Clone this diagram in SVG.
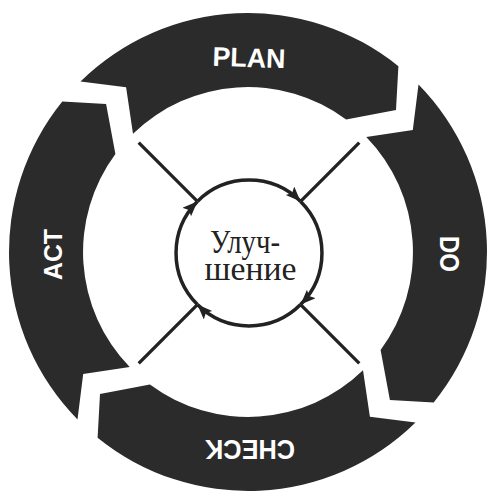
<svg xmlns="http://www.w3.org/2000/svg" xmlns:xlink="http://www.w3.org/1999/xlink" width="488" height="493" viewBox="0 0 488 493">
  <style>
    .seg { fill: #2b2b2b; }
    .lbl { fill: #ffffff; font-family: "Liberation Sans", Arial, sans-serif; font-weight: bold; font-size: 27px; text-anchor: middle; }
    .ctr { fill: #222222; font-family: "Liberation Serif", "Times New Roman", serif; font-size: 34px; text-anchor: middle; }
    .ln { stroke: #222222; stroke-width: 3.3; fill: none; }
    .arc { stroke: #222222; stroke-width: 3.5; fill: none; marker-end: url(#ah); }
  </style>
  <defs>
    <path id="seg" d="M80.5,81.5 A239,239 0 0 1 398.4,66.3 L396.0,110.1 L346.1,119.4 A165,165 0 0 0 133.0,133.7 L126.1,87.2 Z"/>
    <marker id="ah" markerUnits="userSpaceOnUse" markerWidth="18" markerHeight="14" refX="15" refY="6" orient="auto">
      <path d="M0,0 L15,6 L0,12 L3,6 Z" fill="#222222"/>
    </marker>
  </defs>
  <rect width="488" height="493" fill="#ffffff"/>

  <g id="node-plan">
    <use xlink:href="#seg" href="#seg" class="seg"/>
    <text class="lbl" x="249" y="67" textLength="73" lengthAdjust="spacingAndGlyphs" transform="rotate(2 249 57)">PLAN</text>
  </g>
  <g id="node-do">
    <use xlink:href="#seg" href="#seg" class="seg" transform="rotate(90 248 252)"/>
    <text class="lbl" x="0" y="9.7" textLength="36" lengthAdjust="spacingAndGlyphs" transform="translate(450 254) rotate(90)">DO</text>
  </g>
  <g id="node-check">
    <use xlink:href="#seg" href="#seg" class="seg" transform="rotate(180 248 252)"/>
    <text class="lbl" x="0" y="9.7" textLength="90" lengthAdjust="spacingAndGlyphs" transform="translate(250 450) rotate(180)">CHECK</text>
  </g>
  <g id="node-act">
    <use xlink:href="#seg" href="#seg" class="seg" transform="rotate(270 248 252)"/>
    <text class="lbl" x="0" y="9" style="font-size:25px" textLength="51" lengthAdjust="spacingAndGlyphs" transform="translate(52.5 254.5) rotate(-90)">ACT</text>
  </g>

  <g id="connectors">
    <line class="ln" x1="197.4" y1="201.4" x2="138.7" y2="142.7"/>
    <line class="ln" x1="300.6" y1="201.4" x2="359.3" y2="142.7"/>
    <line class="ln" x1="300.6" y1="304.6" x2="359.3" y2="363.3"/>
    <line class="ln" x1="197.4" y1="304.6" x2="138.7" y2="363.3"/>
  </g>

  <g id="node-center">
    <path class="arc" d="M197.4,201.4 A73,73 0 0 1 300.6,201.4"/>
    <path class="arc" d="M300.6,201.4 A73,73 0 0 1 300.6,304.6"/>
    <path class="arc" d="M300.6,304.6 A73,73 0 0 1 197.4,304.6"/>
    <path class="arc" d="M197.4,304.6 A73,73 0 0 1 197.4,201.4"/>
    <text class="ctr" x="245" y="253" textLength="70" lengthAdjust="spacingAndGlyphs">Улуч-</text>
    <text class="ctr" x="250.5" y="280" textLength="92" lengthAdjust="spacingAndGlyphs">шение</text>
  </g>
</svg>
